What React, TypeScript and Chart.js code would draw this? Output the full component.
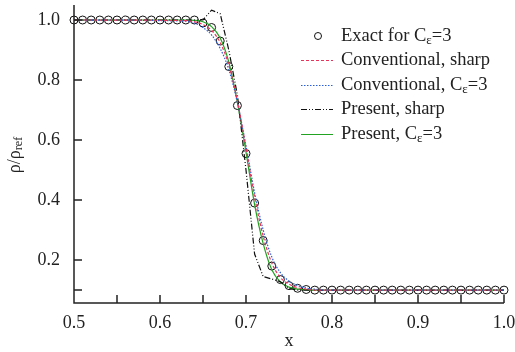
import React, { useEffect, useRef } from "react";
import { Chart, registerables } from "chart.js";
Chart.register(...registerables);

// ---- data ----
const exactX = [0.50,0.51,0.52,0.53,0.54,0.55,0.56,0.57,0.58,0.59,0.60,0.61,0.62,0.63,0.64,0.65,0.66,0.67,0.68,0.69,0.70,0.71,0.72,0.73,0.74,0.75,0.76,0.77,0.78,0.79,0.80,0.81,0.82,0.83,0.84,0.85,0.86,0.87,0.88,0.89,0.90,0.91,0.92,0.93,0.94,0.95,0.96,0.97,0.98,0.99,1.00];
const exactRho = [1,1,1,1,1,1,1,1,1,1,1,1,1,1,1,0.99,0.975,0.93,0.845,0.715,0.555,0.39,0.265,0.18,0.135,0.115,0.106,0.102,0.1,0.1,0.1,0.1,0.1,0.1,0.1,0.1,0.1,0.1,0.1,0.1,0.1,0.1,0.1,0.1,0.1,0.1,0.1,0.1,0.1,0.1,0.1];

const curveX = [0.5,0.63,0.64,0.65,0.66,0.67,0.68,0.69,0.70,0.71,0.72,0.73,0.74,0.75,0.76,0.77,0.78,0.79,1.0];
const convSharpRho = [1.0,0.998,0.994,0.985,0.965,0.925,0.85,0.73,0.575,0.41,0.28,0.19,0.142,0.12,0.108,0.103,0.1,0.1,0.1];
const convCeRho = [1.0,0.996,0.99,0.975,0.95,0.905,0.835,0.725,0.58,0.425,0.3,0.21,0.158,0.13,0.115,0.107,0.103,0.1,0.1];
const presCeRho = [1.0,1.0,0.999,0.994,0.978,0.94,0.86,0.725,0.56,0.385,0.255,0.168,0.127,0.11,0.103,0.101,0.1,0.1,0.1];

const presSharpX = [0.5,0.65,0.66,0.67,0.68,0.69,0.70,0.71,0.72,0.73,0.74,0.75,0.76,1.0];
const presSharpRho = [1.0,1.0,1.033,1.021,0.90,0.75,0.50,0.22,0.145,0.137,0.128,0.105,0.1,0.1];

const legendLabels = ["Exact for C\u03b5=3", "Conventional, sharp", "Conventional, C\u03b5=3", "Present, sharp", "Present, C\u03b5=3"];
const xLabelValues = [0.5,0.6,0.7,0.8,0.9,1.0];
const xTickMarks = [0.5,0.55,0.6,0.65,0.7,0.75,0.8,0.85,0.9,0.95,1.0];
const yLabelValues = [0.2,0.4,0.6,0.8,1.0];
const yTickMarks = [0.1,0.2,0.4,0.6,0.8,1.0];

const zip = (xs: number[], ys: number[]) => xs.map((x, i) => ({ x, y: ys[i] }));

const FONT = "'Liberation Serif', 'DejaVu Serif', serif";
const styles = [
  { kind: "circle", color: "#111" },
  { kind: "line", color: "#e8335a", dash: [3, 2] },
  { kind: "line", color: "#2a5fd8", dash: [1.5, 1.5] },
  { kind: "line", color: "#111", dash: [6, 2, 1, 2, 1, 2] },
  { kind: "line", color: "#22a322", dash: [] as number[] },
];

function drawSubText(ctx: CanvasRenderingContext2D, text: string, x: number, y: number, size: number, subChars: string) {
  let cx = x;
  for (const ch of text) {
    if (subChars.includes(ch)) {
      ctx.font = `${Math.round(size * 0.68)}px ${FONT}`;
      ctx.fillText(ch, cx, y + size * 0.25);
    } else {
      ctx.font = `${size}px ${FONT}`;
      ctx.fillText(ch, cx, y);
    }
    cx += ctx.measureText(ch).width;
  }
}

const decorPlugin = {
  id: "decor",
  afterDraw(chart: any) {
    const { ctx, chartArea, scales } = chart;
    const xs = scales.x, ys = scales.y;
    ctx.save();
    ctx.strokeStyle = "#222";
    ctx.lineWidth = 1.5;
    ctx.beginPath();
    ctx.moveTo(chartArea.left, chartArea.top);
    ctx.lineTo(chartArea.left, chartArea.bottom);
    ctx.lineTo(chartArea.right, chartArea.bottom);
    for (const v of xTickMarks) {
      const px = xs.getPixelForValue(v);
      ctx.moveTo(px, chartArea.bottom);
      ctx.lineTo(px, chartArea.bottom - 8);
    }
    for (const v of yTickMarks) {
      const py = ys.getPixelForValue(v);
      ctx.moveTo(chartArea.left, py);
      ctx.lineTo(chartArea.left + 8, py);
    }
    ctx.stroke();

    // y title  rho/rho_ref
    ctx.fillStyle = "#222";
    ctx.textBaseline = "middle";
    ctx.textAlign = "left";
    ctx.save();
    ctx.font = `18px ${FONT}`;
    const main = "\u03c1/\u03c1";
    const mw = ctx.measureText(main).width;
    ctx.font = `12px ${FONT}`;
    const sw = ctx.measureText("ref").width;
    ctx.translate(15, 155);
    ctx.rotate(-Math.PI / 2);
    const start = -(mw + sw) / 2;
    ctx.font = `18px ${FONT}`;
    ctx.fillText(main, start, 0);
    ctx.font = `12px ${FONT}`;
    ctx.fillText("ref", start + mw, 4);
    ctx.restore();

    // legend
    const rowY0 = 35.5, rowGap = 24.5;
    legendLabels.forEach((lab, i) => {
      const y = Math.round(rowY0 + i * rowGap) + 0.5;
      const st: any = styles[i];
      ctx.strokeStyle = st.color;
      ctx.lineWidth = 1;
      if (st.kind === "circle") {
        ctx.setLineDash([]);
        ctx.beginPath();
        ctx.arc(318, y - 0.5, 3.5, 0, Math.PI * 2);
        ctx.stroke();
      } else {
        ctx.setLineDash(st.dash);
        ctx.beginPath();
        ctx.moveTo(301, y);
        ctx.lineTo(333, y);
        ctx.stroke();
      }
      ctx.setLineDash([]);
      ctx.fillStyle = "#222";
      drawSubText(ctx, lab, 341, y - 0.5, 18.5, "\u03b5");
    });
    ctx.restore();
  },
};

export default function App() {
  const ref = useRef<HTMLCanvasElement | null>(null);
  useEffect(() => {
    document.body.style.margin = "0";
    const canvas = ref.current!;
    const lineDs = (i: number, xs: number[], ys: number[], smooth: boolean) => ({
      label: legendLabels[i],
      data: zip(xs, ys),
      borderColor: styles[i].color,
      borderDash: (styles[i] as any).dash,
      borderWidth: 1.2,
      pointRadius: 0,
      fill: false,
      tension: 0,
      cubicInterpolationMode: smooth ? "monotone" : "default",
    });
    const zeroPad = (s: any) => { s.paddingTop = 0; s.paddingBottom = 0; s.paddingLeft = 0; s.paddingRight = 0; };
    const chart = new Chart(canvas, {
      type: "line",
      data: {
        datasets: [
          lineDs(1, curveX, convSharpRho, true),
          lineDs(2, curveX, convCeRho, true),
          lineDs(3, presSharpX, presSharpRho, false),
          lineDs(4, curveX, presCeRho, true),
          {
            label: legendLabels[0],
            data: zip(exactX, exactRho),
            showLine: false,
            pointRadius: 4,
            pointHoverRadius: 4,
            pointStyle: "circle",
            pointBorderColor: "#111",
            pointBackgroundColor: "rgba(0,0,0,0)",
            pointBorderWidth: 1,
            borderColor: "#111",
            clip: false,
          } as any,
        ],
      },
      options: {
        animation: false,
        responsive: false,
        events: [],
        layout: { padding: { top: 4, right: 11, left: 0, bottom: 0 } },
        plugins: { legend: { display: false }, tooltip: { enabled: false } },
        scales: {
          x: {
            type: "linear",
            min: 0.5,
            max: 1.0,
            grid: { display: false, drawTicks: false },
            border: { display: false },
            afterBuildTicks: (s: any) => { s.ticks = xLabelValues.map((v) => ({ value: v })); },
            afterFit: (s: any) => { s.height = 49; zeroPad(s); },
            ticks: {
              padding: 9,
              color: "#222",
              font: { family: FONT, size: 18 },
              maxRotation: 0,
              autoSkip: false,
              callback: (v: any) => Number(v).toFixed(1),
            },
            title: { display: true, text: "x", color: "#222", font: { family: FONT, size: 18 }, padding: { top: 0, bottom: 0 } },
          },
          y: {
            type: "linear",
            min: 0.057,
            max: 1.05,
            grid: { display: false, drawTicks: false },
            border: { display: false },
            afterBuildTicks: (s: any) => { s.ticks = yLabelValues.map((v) => ({ value: v })); },
            afterFit: (s: any) => { s.width = 74; zeroPad(s); },
            ticks: {
              padding: 14,
              color: "#222",
              font: { family: FONT, size: 18 },
              autoSkip: false,
              callback: (v: any) => Number(v).toFixed(1),
            },
          },
        },
      } as any,
      plugins: [decorPlugin],
    });
    return () => chart.destroy();
  }, []);
  return <canvas ref={ref} width={515} height={352} style={{ display: "block" }} />;
}
